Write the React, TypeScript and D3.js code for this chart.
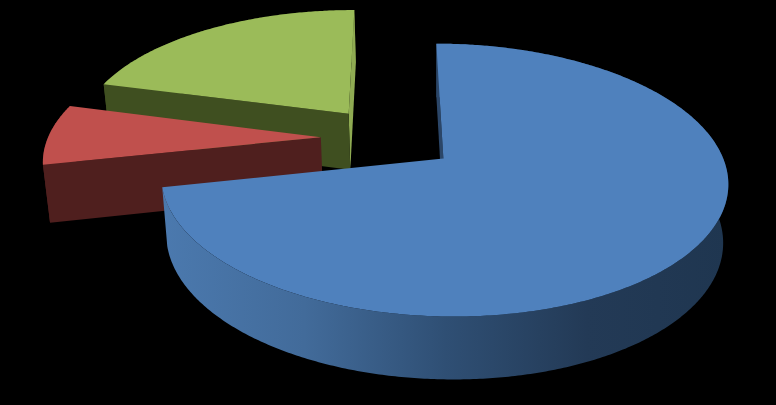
import React from "react";
import * as d3 from "d3";

const categories = ["A", "B", "C"];
const values = [71.6, 7.5, 20.9];
const topColors = ["#4f81bd", "#c0504d", "#9bbb59"];
const startFaceColors = ["#2b4668", "#4f1f1e", "#3f4f20"];
const endFaceColors = ["#2b4668", "#4f1f1e", "#8fab52"];
const wallStops: [number, string][] = [
  [0, "#4b79ae"],
  [0.25, "#426b9a"],
  [0.5, "#2f4f74"],
  [0.75, "#233a56"],
  [1, "#1f3650"],
];
const wallFills = ["url(#blueWall)", "#4f1f1e", "#3f4f20"];

const W = 776, H = 405;
const cx = 389, cy = 138, Rx = 273, Ry = 126.6, k = 0.155;
const explode = 0.25, depth = 57, vx = 440, shrink = 0.982;
const startDeg = 0.1;

type Pt = [number, number];
const project = (U: number, V: number, low: boolean): Pt => {
  const s = 1 / (1 + k * V);
  const x = cx + Rx * U * s;
  const y = cy - Ry * V * s;
  return low ? [vx + (x - vx) * shrink, y + depth * Math.sqrt(s)] : [x, y];
};
const area = (p: Pt[]) => d3.polygonArea(p);
const line = d3.line<Pt>().x((d) => d[0]).y((d) => d[1]);
const path = (p: Pt[]) => line(p) + "Z";

export default function App() {
  const start = (startDeg * Math.PI) / 180;
  const arcs = d3.pie<number>().sort(null).startAngle(start).endAngle(start + 2 * Math.PI)(values);
  const order = [2, 1, 0];
  const shapes = arcs.map((a, i) => {
    const mid = (a.startAngle + a.endAngle) / 2;
    const ox = explode * Math.sin(mid), oy = explode * Math.cos(mid);
    const rim = (t: number, low: boolean) => project(ox + Math.sin(t), oy + Math.cos(t), low);
    const n = Math.ceil((a.endAngle - a.startAngle) / 0.01);
    const ts = d3.range(n + 1).map((j) => a.startAngle + ((a.endAngle - a.startAngle) * j) / n);
    const apexT = project(ox, oy, false), apexB = project(ox, oy, true);
    const top = [apexT, ...ts.map((t) => rim(t, false))];
    const wall = [...ts.map((t) => rim(t, false)), ...ts.slice().reverse().map((t) => rim(t, true))];
    const sFace: Pt[] = [apexT, rim(a.startAngle, false), rim(a.startAngle, true), apexB];
    const eFace: Pt[] = [apexT, rim(a.endAngle, false), rim(a.endAngle, true), apexB];
    return { i, top, wall, sFace, eFace };
  });
  return (
    <svg width={W} height={H} viewBox={`0 0 ${W} ${H}`} style={{ position: "absolute", left: 0, top: 0, background: "#000" }}>
      <defs>
        <linearGradient id="blueWall" gradientUnits="userSpaceOnUse" x1={163} x2={728} y1={0} y2={0}>
          {wallStops.map(([o, c]) => <stop key={o} offset={o} stopColor={c} />)}
        </linearGradient>
      </defs>
      <rect width={W} height={H} fill="#000" />
      {order.map((idx) => {
        const s = shapes[idx];
        return (
          <g key={categories[idx]}>
            <path d={path(s.wall)} fill={wallFills[idx]} />
            {area(s.eFace) < 0 && <path d={path(s.eFace)} fill={endFaceColors[idx]} />}
            {area(s.sFace) > 0 && <path d={path(s.sFace)} fill={startFaceColors[idx]} />}
            <path d={path(s.top)} fill={topColors[idx]} />
          </g>
        );
      })}
    </svg>
  );
}
